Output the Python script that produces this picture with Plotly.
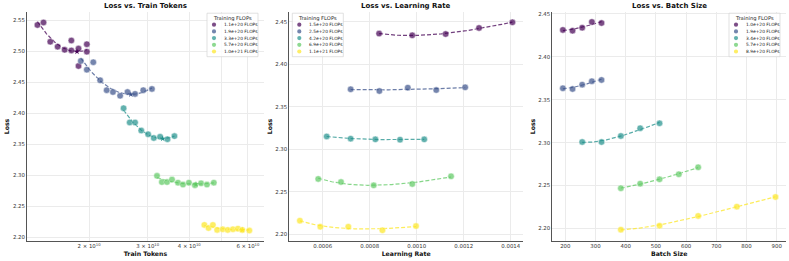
import numpy as np
import plotly.graph_objects as go

W, H = 789, 261


def px(x):
    return x / W


def py(y):
    return 1 - y / H


COLORS = ["#440154", "#3b528b", "#21918c", "#5ec962", "#fde725"]
FONT = "DejaVu Sans"

# ---------------- Panel 1: Loss vs. Train Tokens ----------------
tok_labels = ["1.1e+20 FLOPs", "1.9e+20 FLOPs", "3.3e+20 FLOPs", "5.7e+20 FLOPs", "1.0e+21 FLOPs"]
tok_x1 = [1.40e10, 1.46e10, 1.53e10, 1.61e10, 1.69e10, 1.77e10, 1.77e10, 1.86e10, 1.86e10, 1.97e10, 1.97e10]
tok_y1 = [2.542, 2.546, 2.515, 2.507, 2.502, 2.501, 2.517, 2.504, 2.476, 2.499, 2.511]
tok_x2 = [1.89e10, 1.97e10, 2.06e10, 2.16e10, 2.26e10, 2.36e10, 2.48e10, 2.61e10, 2.75e10, 2.91e10, 3.09e10]
tok_y2 = [2.484, 2.470, 2.482, 2.453, 2.437, 2.434, 2.428, 2.434, 2.431, 2.437, 2.439]
tok_x3 = [2.54e10, 2.65e10, 2.75e10, 2.87e10, 3.01e10, 3.13e10, 3.27e10, 3.44e10, 3.61e10]
tok_y3 = [2.408, 2.385, 2.385, 2.372, 2.366, 2.360, 2.362, 2.358, 2.363]
tok_x4 = [3.20e10, 3.31e10, 3.43e10, 3.55e10, 3.70e10, 3.83e10, 3.99e10, 4.16e10, 4.34e10, 4.52e10, 4.74e10]
tok_y4 = [2.299, 2.289, 2.289, 2.293, 2.288, 2.285, 2.288, 2.284, 2.287, 2.285, 2.288]
tok_x5 = [4.44e10, 4.57e10, 4.71e10, 4.85e10, 5.04e10, 5.22e10, 5.41e10, 5.60e10, 5.77e10, 6.06e10]
tok_y5 = [2.220, 2.215, 2.220, 2.212, 2.213, 2.212, 2.213, 2.214, 2.212, 2.211]
tok_ticks = [2e10, 3e10, 4e10, 6e10]
tok_ticktext = ["2 × 10<sup>10</sup>", "3 × 10<sup>10</sup>", "4 × 10<sup>10</sup>", "6 × 10<sup>10</sup>"]
tok_minor_grid = [5e10]

# ---------------- Panel 2: Loss vs. Learning Rate ----------------
lr_labels = ["1.5e+20 FLOPs", "2.5e+20 FLOPs", "4.2e+20 FLOPs", "6.9e+20 FLOPs", "1.1e+21 FLOPs"]
lr_x1 = [0.000840, 0.000981, 0.001123, 0.001265, 0.001407]
lr_y1 = [2.4360, 2.4340, 2.4355, 2.4426, 2.4493]
lr_x2 = [0.000719, 0.000841, 0.000962, 0.001083, 0.001206]
lr_y2 = [2.3705, 2.3685, 2.3724, 2.3696, 2.3728]
lr_x3 = [0.000617, 0.000719, 0.000824, 0.000929, 0.001032]
lr_y3 = [2.3150, 2.3124, 2.3116, 2.3112, 2.3116]
lr_x4 = [0.000581, 0.000678, 0.000817, 0.000981, 0.001146]
lr_y4 = [2.2650, 2.2614, 2.2575, 2.2591, 2.2681]
lr_x5 = [0.000503, 0.000590, 0.000709, 0.000854, 0.000997]
lr_y5 = [2.2159, 2.2088, 2.2088, 2.2046, 2.2096]
lr_ticks = [0.0006, 0.0008, 0.0010, 0.0012, 0.0014]

# ---------------- Panel 3: Loss vs. Batch Size ----------------
bs_labels = ["1.0e+20 FLOPs", "1.9e+20 FLOPs", "3.4e+20 FLOPs", "5.7e+20 FLOPs", "8.9e+20 FLOPs"]
bs_x1 = [192, 224, 256, 288, 320]
bs_y1 = [2.4314, 2.4305, 2.4340, 2.4407, 2.4395]
bs_x2 = [192, 224, 256, 288, 320]
bs_y2 = [2.3634, 2.3626, 2.3676, 2.3716, 2.3731]
bs_x3 = [256, 320, 384, 448, 512]
bs_y3 = [2.3008, 2.3008, 2.3078, 2.3168, 2.3226]
bs_x4 = [384, 448, 512, 576, 640]
bs_y4 = [2.2469, 2.2522, 2.2573, 2.2632, 2.2713]
bs_x5 = [384, 512, 640, 768, 896]
bs_y5 = [2.1986, 2.2033, 2.2146, 2.2254, 2.2367]

panels = [
    dict(title="Loss vs. Train Tokens", xlabel="Train Tokens", labels=tok_labels,
         xs=[tok_x1, tok_x2, tok_x3, tok_x4, tok_x5], ys=[tok_y1, tok_y2, tok_y3, tok_y4, tok_y5],
         dom=(27, 264), yr=(2.1941, 2.5629), legend="right", stars=True),
    dict(title="Loss vs. Learning Rate", xlabel="Learning Rate", labels=lr_labels,
         xs=[lr_x1, lr_x2, lr_x3, lr_x4, lr_x5], ys=[lr_y1, lr_y2, lr_y3, lr_y4, lr_y5],
         dom=(289.3, 523), yr=(2.192, 2.4614), legend="left", stars=False),
    dict(title="Loss vs. Batch Size", xlabel="Batch Size", labels=bs_labels,
         xs=[bs_x1, bs_x2, bs_x3, bs_x4, bs_x5], ys=[bs_y1, bs_y2, bs_y3, bs_y4, bs_y5],
         dom=(552.3, 786), yr=(2.1854, 2.4523), legend="right", stars=False),
]

fig = go.Figure()
shapes = []
annotations = []

for i, p in enumerate(panels):
    xa = "x" if i == 0 else f"x{i + 1}"
    ya = "y" if i == 0 else f"y{i + 1}"
    for j in range(5):
        x = np.array(p["xs"][j], dtype=float)
        y = np.array(p["ys"][j], dtype=float)
        lx = np.log10(x)
        coef = np.polyfit(lx, y, 2)
        fx = np.linspace(lx.min(), lx.max(), 80)
        fig.add_trace(go.Scatter(x=10 ** fx, y=np.polyval(coef, fx), mode="lines",
                                 line=dict(color=COLORS[j], width=1.2, dash="4px,2px"),
                                 opacity=0.75, xaxis=xa, yaxis=ya, showlegend=False,
                                 hoverinfo="skip"))
        fig.add_trace(go.Scatter(x=x, y=y, mode="markers", name=p["labels"][j],
                                 marker=dict(color=COLORS[j], size=6.5, opacity=0.7,
                                             line=dict(color="white", width=0.5)),
                                 xaxis=xa, yaxis=ya, showlegend=False))
        if p["stars"] and coef[0] > 0:
            vx = -coef[1] / (2 * coef[0])
            if lx.min() <= vx <= lx.max():
                fig.add_trace(go.Scatter(x=[10 ** vx], y=[np.polyval(coef, vx)], mode="markers",
                                         marker=dict(color=COLORS[j], size=4.5, symbol="star"),
                                         xaxis=xa, yaxis=ya, showlegend=False))

    x0, x1 = p["dom"]
    annotations.append(dict(text=p["title"], x=px((x0 + x1) / 2), y=py(6.5),
                            xref="paper", yref="paper", showarrow=False, xanchor="center", yanchor="middle",
                            font=dict(family=FONT, size=7.0, color="#111111", weight="bold")))
    # compact legend box (matplotlib style)
    bw, bh = 51, 43.5
    bx0 = x1 - 6 - bw if p["legend"] == "right" else x0 + 3
    by0 = 13.2
    shapes.append(dict(type="rect", xref="paper", yref="paper", x0=px(bx0), x1=px(bx0 + bw),
                       y0=py(by0), y1=py(by0 + bh), fillcolor="rgba(255,255,255,0.85)",
                       line=dict(color="#d4d4d4", width=0.7), layer="above"))
    annotations.append(dict(text="Training FLOPs", x=px(bx0 + bw / 2), y=py(by0 + 5), xref="paper", yref="paper",
                            showarrow=False, xanchor="center", yanchor="middle",
                            font=dict(family=FONT, size=5.2, color="#222222")))
    for j in range(5):
        cy = by0 + 11.5 + j * 6.7
        cx = bx0 + 7
        shapes.append(dict(type="circle", xref="paper", yref="paper", x0=px(cx - 2.1), x1=px(cx + 2.1),
                           y0=py(cy - 2.1), y1=py(cy + 2.1), fillcolor=COLORS[j], opacity=0.7,
                           line=dict(width=0), layer="above"))
        annotations.append(dict(text=p["labels"][j], x=px(bx0 + 15), y=py(cy), xref="paper", yref="paper",
                                showarrow=False, xanchor="left", yanchor="middle",
                                font=dict(family=FONT, size=4.4, color="#222222")))

common_x = dict(showgrid=True, gridcolor="#ebebeb", gridwidth=0.6, showline=True, linecolor="#555555",
                linewidth=1, zeroline=False, ticks="", tickfont=dict(family=FONT, size=5.4, color="#333333"),
                title=dict(font=dict(family=FONT, size=6.2, color="#111111", weight="bold"), standoff=3))
common_y = dict(showgrid=True, gridcolor="#ebebeb", gridwidth=0.6, showline=True, linecolor="#555555",
                linewidth=1, zeroline=False, ticks="", tickfont=dict(family=FONT, size=5.4, color="#333333"),
                dtick=0.05, tickformat=".2f",
                title=dict(text="Loss", font=dict(family=FONT, size=6.2, color="#111111", weight="bold"), standoff=2))

ydom = [py(241), py(12)]
layout = dict(width=W, height=H, margin=dict(l=0, r=0, t=0, b=0), plot_bgcolor="white", paper_bgcolor="white",
              showlegend=False, shapes=shapes, annotations=annotations, font=dict(family=FONT),
              hovermode=False)

for i, p in enumerate(panels):
    sfx = "" if i == 0 else str(i + 1)
    xa = dict(common_x)
    xa["title"] = dict(common_x["title"], text=p["xlabel"])
    xa["domain"] = [px(p["dom"][0]), px(p["dom"][1])]
    xa["anchor"] = "y" + sfx
    if i == 0:
        xa.update(type="log", range=[10.1148, 10.8265], tickvals=tok_ticks, ticktext=tok_ticktext,
                  minor=dict(tickvals=tok_minor_grid, showgrid=True, gridcolor="#ebebeb", gridwidth=0.6, ticks=""))
    elif i == 1:
        xa.update(range=[0.000458, 0.001452], tickvals=lr_ticks, tickformat=".4f")
    else:
        xa.update(range=[157, 930.8], dtick=100, tick0=0)
    yy = dict(common_y)
    yy["domain"] = ydom
    yy["anchor"] = "x" + sfx
    yy["range"] = list(p["yr"])
    layout["xaxis" + sfx] = xa
    layout["yaxis" + sfx] = yy

fig.update_layout(**layout)
fig.write_html("out.html", config={"displayModeBar": False},
               post_script="document.body.style.margin='0';document.body.style.overflow='hidden';")
